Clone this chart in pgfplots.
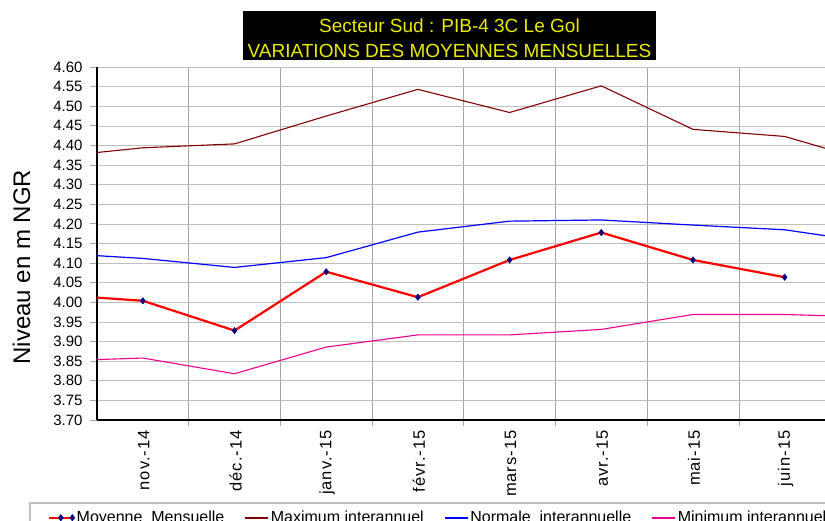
\documentclass[border=0pt]{standalone}
\usepackage{pgfplots}
\pgfplotsset{compat=1.18}
\usepackage{fontspec}
\setmainfont{Liberation Sans}
\newfontfamily\xtickfont[LetterSpace=6]{Liberation Sans}
\definecolor{maxred}{RGB}{128,0,0}
\definecolor{navy}{RGB}{0,0,128}
\definecolor{titleyel}{RGB}{235,235,0}
\definecolor{gridh}{RGB}{190,190,190}
\definecolor{gridv}{RGB}{165,165,165}

\begin{document}
\begin{tikzpicture}
\begin{axis}[
  scale only axis, width=728pt, height=353pt,
  xmin=0.5, xmax=8.44, ymin=3.70, ymax=4.60,
  axis x line*=bottom, axis y line*=left,
  x axis line style={-, line width=1.3pt},
  y axis line style={-, line width=1.3pt},
  xtick={1,...,8},
  xticklabels={nov.-14,déc.-14,janv.-15,févr.-15,mars-15,avr.-15,mai-15,juin-15},
  minor xtick={1.5,2.5,3.5,4.5,5.5,6.5,7.5},
  ytick={3.70,3.75,3.80,3.85,3.90,3.95,4.00,4.05,4.10,4.15,4.20,4.25,4.30,4.35,4.40,4.45,4.50,4.55,4.60},
  tick align=outside,
  major tick length=7pt, minor tick length=6pt,
  major x tick style={draw=none},
  minor x tick style={gridv, line width=0.6pt},
  major y tick style={gridv, line width=0.8pt},
  xminorgrids=true, ymajorgrids=true,
  major grid style={gridh, line width=0.6pt},
  minor grid style={gridv, line width=0.6pt},
  /pgf/number format/assume math mode=true,
  yticklabel style={/pgf/number format/.cd, fixed, fixed zerofill, precision=2,
    /tikz/.cd, font=\fontsize{15}{15}\selectfont, xshift=-4pt},
  xticklabel style={rotate=90, anchor=east, yshift=-1pt, font=\xtickfont\fontsize{16.5}{16.5}\selectfont},
  legend columns=4,
  legend style={at={(-0.0714,-0.2465)}, anchor=north west, draw=none, fill=none,
    font=\fontsize{16}{16}\selectfont,
    /tikz/every even column/.append style={column sep=18pt}},
  legend image code/.code={\draw[mark repeat=2,mark phase=2] plot coordinates {(0pt,0pt) (11.5pt,0pt) (23pt,0pt)};},
]
\addplot[red, line width=2.2pt, mark=diamond*, mark size=3.2pt,
  mark options={navy, fill=navy, line width=0.5pt}, mark indices={2,...,9}]
  coordinates {(0.5,4.012) (1,4.004) (2,3.928) (3,4.078) (4,4.013) (5,4.108) (6,4.178) (7,4.108) (8,4.064)};
\addlegendentry{Moyenne~~Mensuelle\hspace{-13pt}}
\addplot[maxred, line width=1.1pt, legend image post style={line width=1.5pt}]
  coordinates {(0.5,4.382) (1,4.394) (2,4.404) (3,4.475) (4,4.543) (5,4.484) (6,4.552) (7,4.441) (8,4.423) (8.44,4.393)};
\addlegendentry{Maximum interannuel}
\addplot[blue, line width=1.2pt, legend image post style={line width=1.5pt}]
  coordinates {(0.5,4.119) (1,4.112) (2,4.089) (3,4.114) (4,4.179) (5,4.207) (6,4.210) (7,4.197) (8,4.185) (8.44,4.170)};
\addlegendentry{Normale~~interannuelle}
\addplot[magenta, line width=1.1pt, legend image post style={line width=1.5pt}]
  coordinates {(0.5,3.854) (1,3.858) (2,3.818) (3,3.886) (4,3.917) (5,3.917) (6,3.931) (7,3.969) (8,3.969) (8.44,3.966)};
\addlegendentry{Minimum interannuel}
\end{axis}
% legend frame (only its top and left edges fall inside the picture)
\draw[gridh, line width=1.2pt] (-67pt,-140pt) |- (760pt,-83pt);
% title box
\fill[black] (146pt,409pt) rectangle (559pt,360pt);
\node[anchor=base, text=titleyel, font=\fontsize{19}{19}\selectfont, inner sep=0pt] at (352.5pt,387.7pt) {Secteur Sud : PIB-4 3C Le Gol};
\node[anchor=base, text=titleyel, font=\fontsize{19}{19}\selectfont, inner sep=0pt] at (352.5pt,362.7pt) {VARIATIONS DES MOYENNES MENSUELLES};
% y label
\node[rotate=90, font=\fontsize{24}{24}\selectfont, inner sep=0pt] at (-75.5pt,153pt) {Niveau en m NGR};
\pgfresetboundingbox
\path (-97pt,-100pt) rectangle (728pt,420pt);
\end{tikzpicture}
\end{document}
